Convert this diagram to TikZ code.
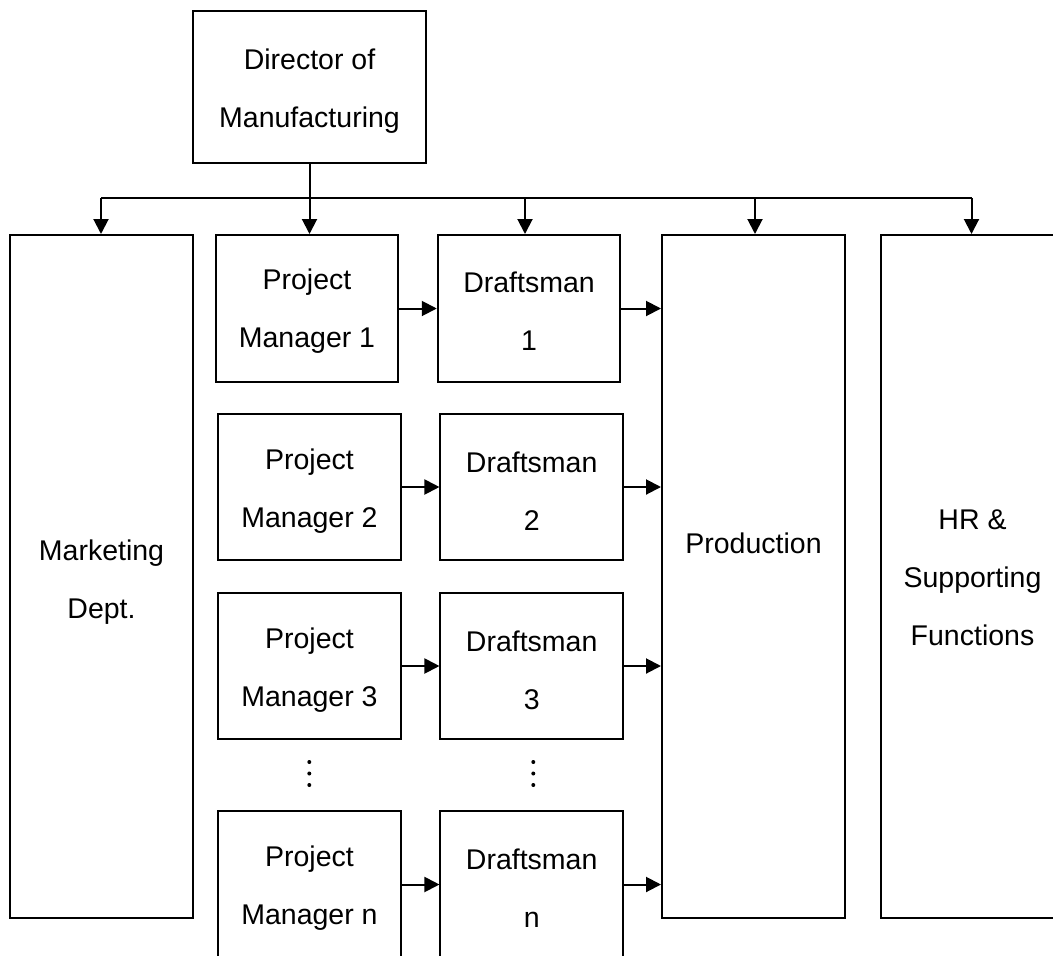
\documentclass[tikz,border=0pt]{standalone}
\usepackage{fontspec}
\setmainfont{Liberation Sans}
\usetikzlibrary{arrows.meta}
\begin{document}
\begin{tikzpicture}[x=1pt,y=-1pt,
  box/.style={draw=black,line width=2pt,inner sep=0pt},
  btxt/.style={inner sep=0pt,align=center,font=\fontsize{28.5}{58}\selectfont,yshift=-4pt},
  arr/.style={line width=2pt,-{Triangle[length=15pt,width=15pt]}},
  ln/.style={line width=2pt},
  dotn/.style={circle,fill=black,inner sep=0pt,minimum size=4pt},
  txt/.style={inner sep=0pt,font=\fontsize{28.5}{58}\selectfont}]
\useasboundingbox (0,0) rectangle (1053,956);
% boxes
\node[box,minimum width=233pt,minimum height=152pt,label={[btxt]center:{Director of\\Manufacturing}}] (dir) at (309.5,87) {};
\node[box,minimum width=183pt,minimum height=683pt,label={[btxt,yshift=-1.5pt]center:{Marketing\\Dept.}}] (mkt) at (101.5,576.5) {};
\node[box,minimum width=183pt,minimum height=683pt] (prod) at (753.5,576.5) {};
\node[txt] (prodtxt) at (753.5,543) {Production};
\node[box,minimum width=183pt,minimum height=683pt,label={[btxt,yshift=3pt]center:{HR \&\\Supporting\\Functions}}] (hr) at (972.5,576.5) {};
\node[box,minimum width=182.5pt,minimum height=147pt,label={[btxt,yshift=1pt]center:{Project\\Manager 1}}] (pm1) at (307,308.5) {};
\node[box,minimum width=182.5pt,minimum height=147pt,label={[btxt,yshift=1pt]center:{Draftsman\\1}}] (d1) at (529,308.5) {};
\node[box,minimum width=182.5pt,minimum height=146.5pt,label={[btxt]center:{Project\\Manager 2}}] (pm2) at (309.5,487) {};
\node[box,minimum width=182.5pt,minimum height=146.5pt,label={[btxt]center:{Draftsman\\2}}] (d2) at (531.7,487) {};
\node[box,minimum width=182.5pt,minimum height=146.5pt,label={[btxt]center:{Project\\Manager 3}}] (pm3) at (309.5,666) {};
\node[box,minimum width=182.5pt,minimum height=146.5pt,label={[btxt]center:{Draftsman\\3}}] (d3) at (531.7,666) {};
\node[box,minimum width=182.5pt,minimum height=147pt,label={[btxt]center:{Project\\Manager n}}] (pmn) at (309.5,884.5) {};
\node[box,minimum width=182.5pt,minimum height=147pt,label={[btxt]center:{Draftsman\\n}}] (dn) at (531.7,884.5) {};
% dots
\node[dotn] (pa) at (309.3,762) {};
\node[dotn] (pb) at (309.3,773.5) {};
\node[dotn] (pc) at (309.3,785) {};
\node[dotn] (da) at (533.3,762) {};
\node[dotn] (db) at (533.3,773.5) {};
\node[dotn] (dc) at (533.3,785) {};
% bus
\coordinate (b2) at (dir.south |- 0,198);
\coordinate (b1) at (101,198);
\coordinate (b3) at (525,198);
\coordinate (b4) at (755,198);
\coordinate (b5) at (971.5,198);
\draw[ln] (dir.south) -- (b2);
\draw[ln] (b1) -- (b5);
\draw[arr] (b1) -- (b1 |- mkt.north);
\draw[arr] (b2) -- (b2 |- pm1.north);
\draw[arr] (b3) -- (b3 |- d1.north);
\draw[arr] (b4) -- (b4 |- prod.north);
\draw[arr] (b5) -- (b5 |- hr.north);
% rows
\foreach \p/\d in {pm1/d1,pm2/d2,pm3/d3,pmn/dn}{
  \draw[arr] (\p.east) -- (\p.east -| \d.west);
  \draw[arr] (\d.east) -- (\d.east -| prod.west);
}
\end{tikzpicture}
\end{document}
